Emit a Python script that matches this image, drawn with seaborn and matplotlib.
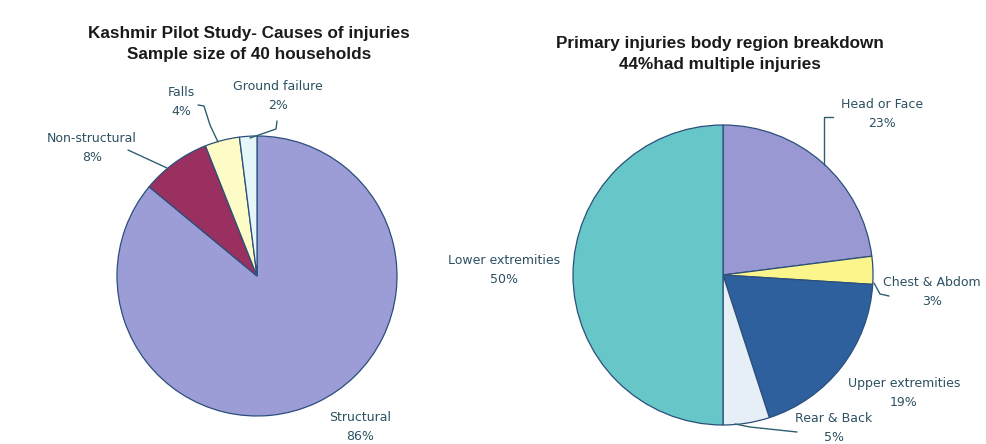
import seaborn as sns
import matplotlib.pyplot as plt

# left pie: causes of injuries
cause_labels = ['Structural', 'Non-structural', 'Falls', 'Ground failure']
cause_pct = [86, 8, 4, 2]
cause_colors = ['#9c9cd6', '#99305f', '#fdfbc6', '#e4f6f8']

# right pie: body region breakdown
region_labels = ['Head or Face', 'Chest & Abdom', 'Upper extremities', 'Rear & Back', 'Lower extremities']
region_pct = [23, 3, 19, 5, 50]
region_colors = ['#9a98d2', '#fbf58c', '#2f609e', '#e6eef6', '#66c6c8']

sns.set_style('white')
plt.rcParams['font.family'] = ['DejaVu Sans']

W, H = 987, 444
fig = plt.figure(figsize=(W / 100, H / 100), dpi=100)
ax = fig.add_axes([0, 0, 1, 1])

def py(y):
    # pixel row -> data y
    return H - y

wedge = dict(edgecolor='#2b4f7a', linewidth=0.9)
ax.pie(cause_pct, colors=cause_colors, startangle=90, counterclock=False,
       center=(257, py(276)), radius=140, wedgeprops=wedge, frame=True)
ax.pie(region_pct, colors=region_colors, startangle=90, counterclock=False,
       center=(723, py(275)), radius=150, wedgeprops=wedge, frame=True)
ax.set_xlim(0, W)
ax.set_ylim(0, H)
ax.set_aspect('equal')
ax.axis('off')

title_kw = dict(ha='center', va='center', fontsize=12.3, fontweight='bold',
                family='Liberation Sans', color='#1a1a1a', linespacing=1.5)
ax.text(249, py(44), 'Kashmir Pilot Study- Causes of injuries\nSample size of 40 households',
        **title_kw)
ax.text(720, py(54), 'Primary injuries body region breakdown\n44%had multiple injuries',
        **title_kw)

lab_col = '#2c5062'
line_col = '#2e6070'
lab_kw = dict(ha='center', va='center', fontsize=9, color=lab_col, linespacing=1.65)

# label centres (pixel coordinates)
left_pos = {'Structural': (360, 427), 'Non-structural': (92, 148),
            'Falls': (181, 102), 'Ground failure': (278, 96)}
for name, pct in zip(cause_labels, cause_pct):
    x, y = left_pos[name]
    ax.text(x, py(y), f'{name}\n{pct}%', **lab_kw)

right_pos = {'Head or Face': (882, 114), 'Chest & Abdom': (932, 292),
             'Upper extremities': (904, 393), 'Rear & Back': (834, 428),
             'Lower extremities': (504, 270)}
for name, pct in zip(region_labels, region_pct):
    x, y = right_pos[name]
    ax.text(x, py(y), f'{name}\n{pct}%', **lab_kw)

# leader lines
leaders = [
    [(128, 150), (167, 168)],
    [(198, 105), (204, 106), (210, 125), (218, 142)],
    [(277, 121), (276, 129), (250, 138)],
    [(833, 117), (824, 117), (824, 165)],
    [(874, 283), (880, 294), (889, 296)],
    [(797, 432), (750, 427), (735, 424)],
]
for pts in leaders:
    xs = [p[0] for p in pts]
    ys = [py(p[1]) for p in pts]
    ax.plot(xs, ys, color=line_col, linewidth=1.0)

fig.savefig('out.png', dpi=100)
